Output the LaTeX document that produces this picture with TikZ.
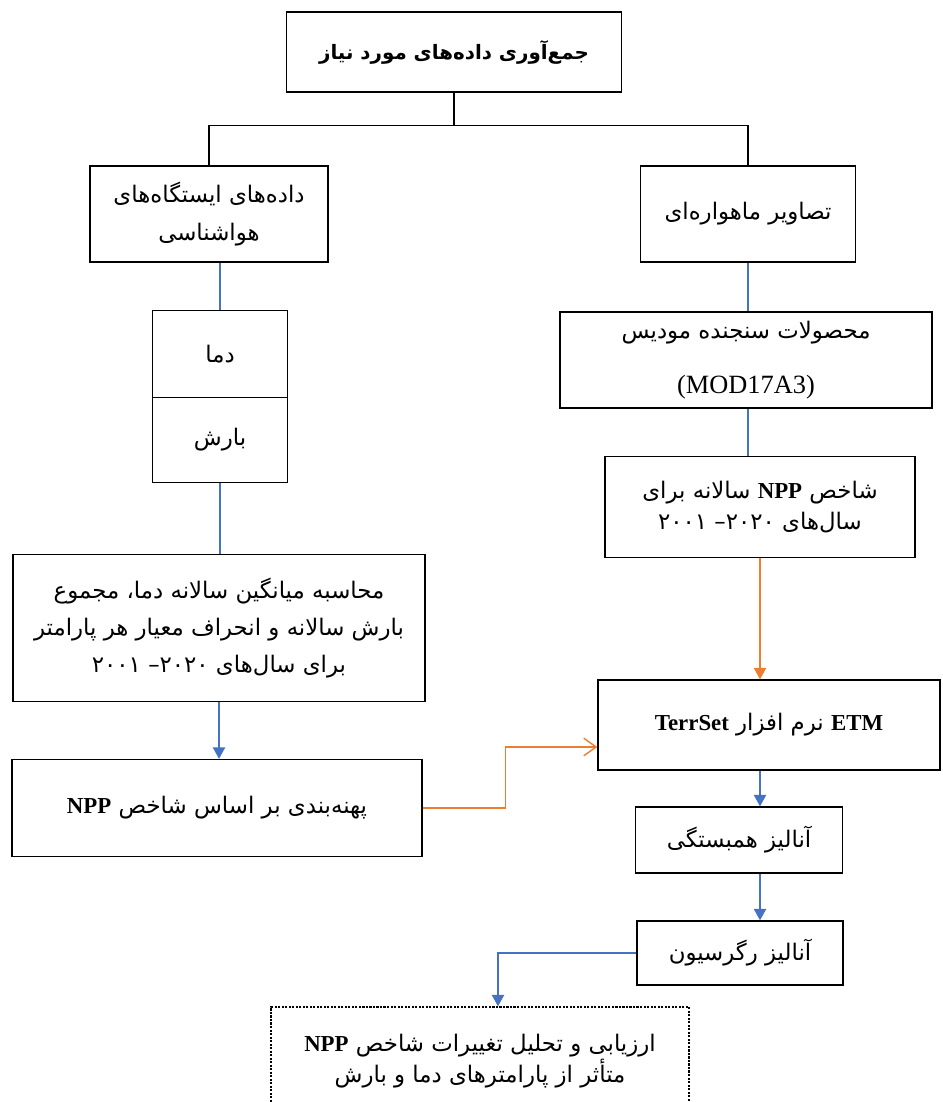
\documentclass[tikz,border=0pt]{standalone}
\usepackage{fontspec}
\usepackage{tikz}
\usetikzlibrary{arrows.meta}
\TeXXeTstate=1
\newfontfamily\farsifont[Script=Arabic]{DejaVu Sans}
\newfontfamily\latinfont{Liberation Serif}
\definecolor{lineblue}{HTML}{4472C4}
\definecolor{lineorange}{HTML}{ED7D31}
\newcommand{\faline}[1]{\beginR #1\endR}
\newcommand{\lrword}[1]{\beginL #1\endL}
\newcommand{\enbf}[1]{\lrword{{\latinfont\bfseries #1}}}
\newcommand{\yearspan}{\lrword{۲۰۰۱ –\kern0pt ۲۰۲۰}}

\begin{document}
\begin{tikzpicture}[x=0.02cm, y=-0.02cm,
  box/.style={draw, line width=0.8pt, align=center, inner sep=0pt,
    font=\farsifont\fontsize{13}{21}\selectfont},
  link/.style={line width=0.9pt},
  bluelink/.style={line width=0.8pt, lineblue},
  bluearrow/.style={line width=0.8pt, lineblue, -{Triangle[width=7pt,length=6.5pt]}}]
\useasboundingbox (0,0) rectangle (943,1102);
\clip (0,0) rectangle (943,1102);

% top
\node[box, minimum width=6.7cm, minimum height=1.6cm,
  font=\farsifont\bfseries\fontsize{11.3}{20}\selectfont] (collect) at (454,52)
  {\faline{جمع‌آوری داده‌های مورد نیاز}};
\node[box, minimum width=4.76cm, minimum height=1.92cm] (station) at (209,214)
  {\faline{داده‌های ایستگاه‌های}\\[1pt]\faline{هواشناسی}};
\node[box, minimum width=4.3cm, minimum height=1.92cm] (satellite) at (748,214)
  {\faline{تصاویر ماهواره‌ای}};
\draw[link] (collect.south) -- ++(0,33) coordinate (fork);
\draw[link] (station.north) |- (fork) -| (satellite.north);

% left column
\node[box, minimum width=2.7cm, minimum height=1.74cm] (temp) at (220,354)
  {\faline{دما}};
\node[box, minimum width=2.7cm, minimum height=1.7cm] (rain) at (220,440)
  {\faline{بارش}};
\node[box, minimum width=8.24cm, minimum height=2.94cm] (calc) at (219,628)
  {\faline{محاسبه میانگین سالانه دما، مجموع}\\
   \faline{بارش سالانه و انحراف معیار هر پارامتر}\\
   \faline{برای سال‌های \yearspan}};
\node[box, minimum width=8.2cm, minimum height=1.94cm] (zoning) at (217,808)
  {\faline{پهنه‌بندی بر اساس شاخص \enbf{NPP}}};
\draw[bluelink] (temp.north |- station.south) -- (temp.north);
\draw[bluelink] (rain.south) -- (rain.south |- calc.north);
\draw[bluearrow] (calc.south) -- (calc.south |- zoning.north);

% right column
\node[box, minimum width=7.44cm, minimum height=1.92cm] (modis) at (746,360)
  {\faline{محصولات سنجنده مودیس}\\[10pt]{\latinfont\fontsize{15}{18}\selectfont (MOD17A3)}};
\node[box, minimum width=6.2cm, minimum height=2.02cm] (npp) at (760,507)
  {\faline{شاخص \enbf{NPP} سالانه برای}\\[-3pt]
   \faline{سال‌های \yearspan}};
\node[box, minimum width=6.84cm, minimum height=1.8cm] (etm) at (769,725)
  {\faline{\enbf{ETM} نرم افزار \enbf{TerrSet}}};
\node[box, minimum width=4.14cm, minimum height=1.32cm] (corr) at (739,840)
  {\faline{آنالیز همبستگی}};
\node[box, minimum width=4.12cm, minimum height=1.28cm] (regr) at (740,953)
  {\faline{آنالیز رگرسیون}};
\draw[bluelink] (satellite.south) -- (satellite.south |- modis.north);
\draw[bluelink] (satellite.south |- modis.south) -- (satellite.south |- npp.north);
\draw[line width=0.8pt, lineorange, -{Triangle[width=7pt,length=6.5pt]}]
  (npp.south) -- (npp.south |- etm.north);
\draw[bluearrow] (npp.south |- etm.south) -- (npp.south |- corr.north);
\draw[bluearrow] (npp.south |- corr.south) -- (npp.south |- regr.north);

% zoning to ETM
\draw[line width=0.8pt, lineorange, -{Straight Barb[width=10pt,length=7pt]}]
  (zoning.east) -- ++(83,0) |- ([yshift=-0.44cm]etm.west);

% result
\node[box, dash pattern=on 1.2pt off 0.8pt, minimum width=8.36cm, minimum height=2.16cm]
  (result) at (480,1061)
  {\faline{ارزیابی و تحلیل تغییرات شاخص \enbf{NPP}}\\[-3pt]
   \faline{متأثر از پارامترهای دما و بارش}};
\draw[bluearrow] (regr.west) -| ([xshift=0.36cm]result.north);
\end{tikzpicture}
\end{document}
